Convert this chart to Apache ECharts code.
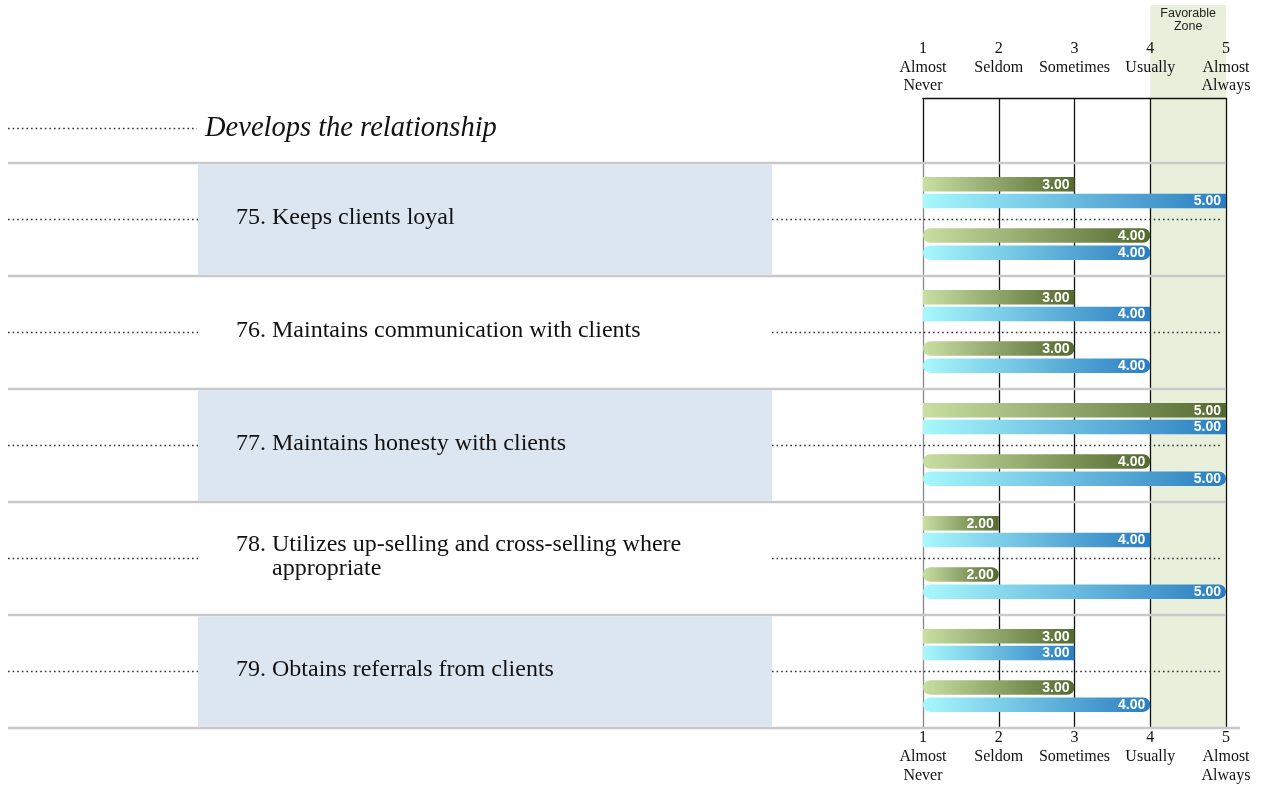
<!DOCTYPE html>
<html>
<head>
<meta charset="utf-8">
<script src="https://cdn.jsdelivr.net/npm/echarts@6/dist/echarts.min.js"></script>
<style>
  html, body { margin: 0; padding: 0; background: #ffffff; }
  #chart { width: 1263px; height: 788px; }
</style>
</head>
<body>
<div id="chart"></div>
<script>
// ---- data ----
const scaleValues = [1, 2, 3, 4, 5];
const scaleNames = ['Almost\nNever', 'Seldom', 'Sometimes', 'Usually', 'Almost\nAlways'];
const sectionTitle = 'Develops the relationship';
const zoneTitle = 'Favorable\nZone';
const zoneRange = [4, 5];
const itemNumbers = ['75.', '76.', '77.', '78.', '79.'];
const itemTexts = [
  'Keeps clients loyal',
  'Maintains communication with clients',
  'Maintains honesty with clients',
  'Utilizes up-selling and cross-selling where appropriate',
  'Obtains referrals from clients'
];
const upperGreen = [3, 3, 5, 2, 3];
const upperBlue = [5, 4, 5, 4, 3];
const lowerGreen = [4, 3, 4, 2, 3];
const lowerBlue = [4, 4, 5, 5, 4];

// ---- styling ----
const SERIF = '"Liberation Serif", "Times New Roman", serif';
const SANS = '"Liberation Sans", Arial, sans-serif';
const GREEN = ['#c9dfa2', '#53692f'];
const BLUE = ['#a8f8fd', '#2a7dc0'];
const SHADE = '#dce6f1';
const ZONE = '#e8f0dc';
const RULE = '#c9c9c9';
const DOT = '#333333';
const DOT_DASH = [1.6, 3.0];
const BAR_H = 14.5;
const LABEL_FONT = 24;
const LABEL_LINE = 24;
const TEXT_X = 236;
const TEXT_MAX_W = 470;

const chart = echarts.init(document.getElementById('chart'), null, { renderer: 'canvas' });

// wrap a label into lines that fit the text column
const measureCtx = document.createElement('canvas').getContext('2d');
function wrapLines(text, font, maxW) {
  measureCtx.font = font;
  const words = text.split(' ');
  const lines = [];
  let cur = '';
  words.forEach(w => {
    const test = cur ? cur + ' ' + w : w;
    if (cur && measureCtx.measureText(test).width > maxW) {
      lines.push(cur);
      cur = w;
    } else {
      cur = test;
    }
  });
  if (cur) lines.push(cur);
  return lines;
}

function dotted(x1, x2, y) {
  return {
    type: 'line',
    shape: { x1: x1, y1: y, x2: x2, y2: y },
    style: { stroke: DOT, lineWidth: 1.5, lineDash: DOT_DASH }
  };
}

// row backgrounds, rules, dotted leaders and item labels
function renderRow(params, api) {
  const i = api.value(1);
  const c = api.coord([scaleValues[0], i]);
  const band = api.size([0, 1])[1];
  const yc = c[1];
  const top = yc - band / 2;
  const bottom = yc + band / 2;
  const gridRight = api.coord([scaleValues[scaleValues.length - 1], i])[0];
  const children = [];
  if (i % 2 === 0) {
    children.push({
      type: 'rect',
      shape: { x: 198, y: top + 1.5, width: 574, height: band - 3 },
      style: { fill: SHADE }
    });
  }
  children.push({
    type: 'line',
    shape: { x1: 8, y1: top, x2: gridRight, y2: top },
    style: { stroke: RULE, lineWidth: 2.5 }
  });
  if (i === itemNumbers.length - 1) {
    children.push({
      type: 'line',
      shape: { x1: 8, y1: bottom, x2: gridRight + 14, y2: bottom },
      style: { stroke: RULE, lineWidth: 2.5 }
    });
  }
  children.push(dotted(8, 198, yc));
  children.push(dotted(772, gridRight - 4, yc));

  const font = LABEL_FONT + 'px ' + SERIF;
  measureCtx.font = font;
  const numW = measureCtx.measureText(itemNumbers[i] + ' ').width;
  const lines = wrapLines(itemTexts[i], font, TEXT_MAX_W);
  const firstY = yc - 1.5 - (lines.length - 1) * LABEL_LINE / 2;
  children.push({
    type: 'text',
    style: {
      text: itemNumbers[i], x: TEXT_X, y: firstY,
      align: 'left', verticalAlign: 'middle',
      fontFamily: SERIF, fontSize: LABEL_FONT, fill: '#111'
    }
  });
  lines.forEach((ln, k) => {
    children.push({
      type: 'text',
      style: {
        text: ln, x: TEXT_X + numW, y: firstY + k * LABEL_LINE,
        align: 'left', verticalAlign: 'middle',
        fontFamily: SERIF, fontSize: LABEL_FONT, fill: '#111'
      }
    });
  });
  return { type: 'group', children: children };
}

// horizontal rating bar starting at the low end of the scale
function barRenderer(offset, palette, rounded) {
  return function (params, api) {
    const i = api.value(1);
    const v = api.value(0);
    const start = api.coord([scaleValues[0], i]);
    const end = api.coord([v, i]);
    const yc = start[1] + offset;
    return {
      type: 'group',
      children: [
        {
          type: 'rect',
          shape: { x: start[0], y: yc - BAR_H / 2, width: end[0] - start[0], height: BAR_H, r: rounded ? BAR_H / 2 : 0 },
          style: {
            fill: new echarts.graphic.LinearGradient(0, 0, 1, 0, [
              { offset: 0, color: palette[0] },
              { offset: 1, color: palette[1] }
            ])
          }
        },
        {
          type: 'text',
          style: {
            text: v.toFixed(2), x: end[0] - 5, y: yc + 0.5,
            align: 'right', verticalAlign: 'middle',
            fontFamily: SANS, fontSize: 14, fontWeight: 'bold', fill: '#ffffff'
          }
        }
      ]
    };
  };
}

function axisText(v, pad) {
  const idx = scaleValues.indexOf(v);
  const lines = [String(v)].concat(scaleNames[idx].split('\n'));
  while (pad && lines.length < 3) lines.push(' ');
  return lines.join('\n');
}

const toPairs = arr => arr.map((v, i) => [v, i]);

const option = {
  animation: false,
  grid: { left: 923, top: 163, width: 303, height: 565, containLabel: false },
  xAxis: [
    {
      type: 'value', position: 'bottom', min: 1, max: 5, interval: 1,
      axisLine: { show: false },
      axisTick: { show: false },
      splitLine: { show: true, lineStyle: { color: ['#888888', '#111111', '#111111', '#111111', '#111111'], width: 1.3 } },
      axisLabel: {
        show: true, showMinLabel: true, showMaxLabel: true, margin: 0,
        formatter: v => axisText(v, false),
        fontFamily: SERIF, fontSize: 16, lineHeight: 19, color: '#111'
      }
    },
    {
      type: 'value', position: 'top', offset: 65, min: 1, max: 5, interval: 1,
      axisLine: { show: true, lineStyle: { color: '#111111', width: 1.3 } },
      axisTick: { show: true, inside: true, length: 65, lineStyle: { color: '#111111', width: 1.3 } },
      splitLine: { show: false },
      axisLabel: {
        show: true, showMinLabel: true, showMaxLabel: true, margin: 2.5,
        formatter: v => axisText(v, true),
        fontFamily: SERIF, fontSize: 16, lineHeight: 18.5, color: '#111'
      }
    }
  ],
  yAxis: {
    type: 'category', data: itemNumbers, inverse: true, show: false
  },
  series: [
    { type: 'custom', name: 'rows', clip: false, renderItem: renderRow, data: toPairs(itemNumbers.map(() => 1)), encode: { x: 0, y: 1 }, z: 1 },
    { type: 'custom', name: 'Upper green', renderItem: barRenderer(-35.2, GREEN, false), data: toPairs(upperGreen), encode: { x: 0, y: 1 }, z: 3 },
    { type: 'custom', name: 'Upper blue', renderItem: barRenderer(-18.4, BLUE, false), data: toPairs(upperBlue), encode: { x: 0, y: 1 }, z: 3 },
    { type: 'custom', name: 'Lower green', renderItem: barRenderer(16.0, GREEN, true), data: toPairs(lowerGreen), encode: { x: 0, y: 1 }, z: 3 },
    { type: 'custom', name: 'Lower blue', renderItem: barRenderer(33.2, BLUE, true), data: toPairs(lowerBlue), encode: { x: 0, y: 1 }, z: 3 }
  ]
};

chart.setOption(option);

// favourable zone band and section heading placed from the axis scale
const zx0 = chart.convertToPixel({ xAxisIndex: 0 }, zoneRange[0]);
const zx1 = chart.convertToPixel({ xAxisIndex: 0 }, zoneRange[1]);
const gridBottom = option.grid.top + option.grid.height;
chart.setOption({
  graphic: [
    {
      type: 'rect', z: -10, silent: true,
      shape: { x: zx0, y: 5, width: zx1 - zx0, height: gridBottom - 5 },
      style: { fill: ZONE }
    },
    {
      type: 'text', z: 5, silent: true,
      style: {
        text: zoneTitle, x: (zx0 + zx1) / 2, y: 7,
        align: 'center', verticalAlign: 'top',
        fontFamily: SANS, fontSize: 12.5, lineHeight: 13, fill: '#222'
      }
    },
    {
      type: 'line', z: 5, silent: true,
      shape: { x1: 8, y1: 128.5, x2: 197, y2: 128.5 },
      style: { stroke: DOT, lineWidth: 1.5, lineDash: DOT_DASH }
    },
    {
      type: 'text', z: 5, silent: true,
      style: {
        text: sectionTitle, x: 205, y: 128.5,
        align: 'left', verticalAlign: 'middle',
        fontFamily: SERIF, fontStyle: 'italic', fontSize: 28.5, fill: '#111'
      }
    }
  ]
});
</script>
</body>
</html>
